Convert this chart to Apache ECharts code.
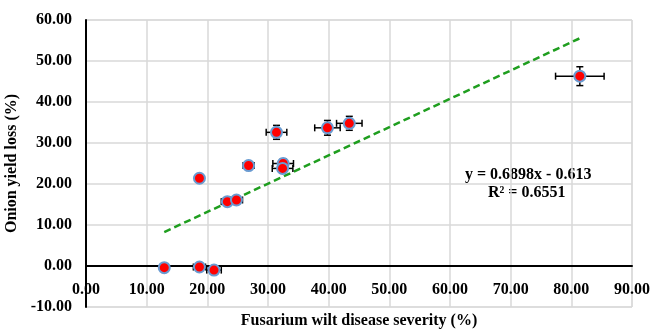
<!DOCTYPE html>
<html>
<head>
<meta charset="utf-8">
<script src="https://cdn.jsdelivr.net/npm/echarts@6/dist/echarts.min.js"></script>
<style>html,body{margin:0;padding:0;background:#fff}#c{width:652px;height:329px}</style>
</head>
<body>
<div id="c"></div>
<script>
const severity = [12.9, 18.7, 21.1, 18.7, 23.3, 24.8, 26.8, 31.4, 32.5, 32.4, 39.8, 43.4, 81.4];
const yieldLoss = [-0.4, -0.25, -1.0, 21.4, 15.7, 16.1, 24.5, 32.6, 25.0, 23.8, 33.7, 34.8, 46.3];
const severityErr = [0.4, 1.0, 1.2, 0.4, 1.0, 1.0, 0.9, 1.7, 1.7, 1.7, 2.1, 2.1, 4.0];
const yieldErr = [0.3, 0.3, 0.5, 0.9, 0.4, 0.4, 1.0, 1.7, 1.1, 1.1, 1.8, 1.7, 2.3];
const trendX = [12.9, 81.4];
const trendY = [8.29, 55.54];
const equationText = 'y = 0.6898x - 0.613';
const r2Text = 'R\u00b2 = 0.6551';
const xTitle = 'Fusarium wilt disease severity (%)';
const yTitle = 'Onion yield loss (%)';

const font = '"Liberation Serif", "Times New Roman", serif';
const chart = echarts.init(document.getElementById('c'), null, {renderer: 'canvas'});

const points = severity.map((x, i) => [x, yieldLoss[i]]);
const errData = severity.map((x, i) => [x, yieldLoss[i], severityErr[i], yieldErr[i]]);
const trendData = trendX.map((x, i) => [x, trendY[i]]);

chart.setOption({
  animation: false,
  grid: {left: 86, right: 20, top: 20, bottom: 22, show: true, borderColor: '#d9d9d9', borderWidth: 1,
         containLabel: false, outerBoundsMode: 'none'},
  xAxis: {
    type: 'value', min: 0, max: 90, interval: 10,
    axisLine: {onZero: true, lineStyle: {color: '#000', width: 2}},
    axisTick: {show: false},
    splitLine: {lineStyle: {color: '#d9d9d9', width: 1.5}},
    axisLabel: {formatter: v => v.toFixed(2), fontFamily: font, fontWeight: 'bold', fontSize: 16, color: '#000', margin: -25},
    name: xTitle, nameLocation: 'middle', nameGap: 6, nameMoveOverlap: false,
    nameTextStyle: {fontFamily: font, fontWeight: 'bold', fontSize: 16, color: '#000', verticalAlign: 'top'}
  },
  yAxis: {
    type: 'value', min: -10, max: 60, interval: 10,
    axisLine: {onZero: false, lineStyle: {color: '#000', width: 2}},
    axisTick: {show: false},
    splitLine: {lineStyle: {color: '#d9d9d9', width: 1.5}},
    axisLabel: {formatter: v => v.toFixed(2), fontFamily: font, fontWeight: 'bold', fontSize: 16, color: '#000', margin: 14},
    name: yTitle, nameLocation: 'middle', nameGap: 57, nameRotate: 90,
    nameTextStyle: {fontFamily: font, fontWeight: 'bold', fontSize: 16, color: '#000'}
  },
  series: [
    {
      type: 'line', data: trendData, symbol: 'none', z: 3,
      lineStyle: {color: '#1f9e1f', width: 2.5, type: [7, 4]}
    },
    {
      type: 'custom', z: 4,
      data: errData,
      renderItem: function (params, api) {
        const x = api.value(0), y = api.value(1), ex = api.value(2), ey = api.value(3);
        const c = api.coord([x, y]);
        const l = api.coord([x - ex, y]), r = api.coord([x + ex, y]);
        const t = api.coord([x, y + ey]), b = api.coord([x, y - ey]);
        const cap = 3.5;
        const st = {stroke: '#000', lineWidth: 1.5};
        return {
          type: 'group',
          children: [
            {type: 'line', shape: {x1: l[0], y1: c[1], x2: r[0], y2: c[1]}, style: st},
            {type: 'line', shape: {x1: l[0], y1: c[1] - cap, x2: l[0], y2: c[1] + cap}, style: st},
            {type: 'line', shape: {x1: r[0], y1: c[1] - cap, x2: r[0], y2: c[1] + cap}, style: st},
            {type: 'line', shape: {x1: c[0], y1: t[1], x2: c[0], y2: b[1]}, style: st},
            {type: 'line', shape: {x1: c[0] - cap, y1: t[1], x2: c[0] + cap, y2: t[1]}, style: st},
            {type: 'line', shape: {x1: c[0] - cap, y1: b[1], x2: c[0] + cap, y2: b[1]}, style: st}
          ]
        };
      }
    },
    {
      type: 'scatter', data: points, symbol: 'circle', symbolSize: 11, z: 5,
      itemStyle: {color: '#ff0000', borderColor: '#6a9bd1', borderWidth: 2, opacity: 1}
    }
  ],
  graphic: [
    {type: 'text', left: 465, top: 167, style: {text: equationText, font: 'bold 16px ' + font, fill: '#000'}},
    {type: 'text', left: 488, top: 185, style: {text: r2Text, font: 'bold 16px ' + font, fill: '#000'}}
  ]
});
</script>
</body>
</html>
